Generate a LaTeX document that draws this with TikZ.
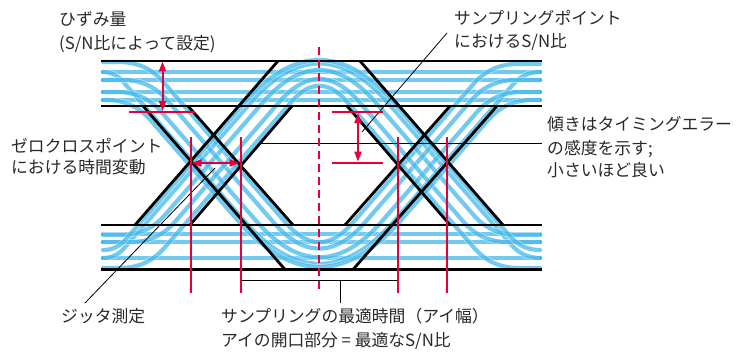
\documentclass[tikz,border=0pt]{standalone}
\usepackage{fontspec}
\setmainfont{Noto Sans CJK JP}
\usetikzlibrary{arrows.meta}
\definecolor{eyeblue}{RGB}{0,160,228}
\definecolor{eyered}{RGB}{228,0,58}
\definecolor{txt}{RGB}{40,40,40}
\tikzset{
  trace/.style={line width=4.2, eyeblue, draw opacity=0.55, line cap=round,
    preaction={draw=white, line width=5.6, draw opacity=0.5}},
  bk/.style={line width=2.8, black},
  rd/.style={line width=2, eyered},
  tip/.style={{Triangle[length=10pt,width=7pt]}-{Triangle[length=10pt,width=7pt]}},
  ld/.style={line width=0.8, black},
  lbl/.style={anchor=base west, inner sep=0, text=txt, font=\fontsize{16.8}{20}\selectfont}
}
% #1 left level, #2 left crossing, #3 right crossing, #4 right level, #5 extremum level
\newcommand\eyetrace[5]{%
  \pgfmathsetmacro\sg{(#1<165.5)?1:-1}%
  \pgfmathsetmacro\Lx{#2-0.87*\sg*(165.5-#1)}%
  \pgfmathsetmacro\Rx{#3+0.87*\sg*(165.5-#4)}%
  \pgfmathsetmacro\Ay{165.5+\sg*(#3-#2)/1.74}%
  \pgfmathsetmacro\Ax{(#2+#3)/2}%
  \pgfmathsetmacro\dv{2*\sg*(\Ay-#5)}%
  \pgfmathsetmacro\vl{max(0.5,min(20,(\Lx-103)/1.3255))}%
  \pgfmathsetmacro\vr{max(0.5,min(20,(540-\Rx)/1.3255))}%
  \pgfmathsetmacro\hl{1.3255*\vl}%
  \pgfmathsetmacro\hr{1.3255*\vr}%
  \draw[trace] (103,#1) -- (\Lx-\hl,#1)
    .. controls (\Lx-\hl/3,#1) and (\Lx+0.87*\vl/3,#1+\sg*\vl/3) .. (\Lx+0.87*\vl,#1+\sg*\vl)
    -- (\Ax-0.87*\dv,\Ay-\sg*\dv)
    .. controls (\Ax-0.87*\dv/3,\Ay-\sg*\dv/3) and (\Ax+0.87*\dv/3,\Ay-\sg*\dv/3) .. (\Ax+0.87*\dv,\Ay-\sg*\dv)
    -- (\Rx-0.87*\vr,#4+\sg*\vr)
    .. controls (\Rx-0.87*\vr/3,#4+\sg*\vr/3) and (\Rx+\hr/3,#4) .. (\Rx+\hr,#4)
    -- (540,#4);
}
\begin{document}
\begin{tikzpicture}[x=1pt,y=-1pt]
\useasboundingbox (0,0) rectangle (755,353);
% straight traces
\foreach \yy in {72,80,92,100,234,242,258} \draw[trace] (103,\yy) -- (540,\yy);
% transition traces
\eyetrace{62}{236}{402.5}{64}{242.2}
\eyetrace{268}{236}{402.5}{268}{85.8}
\eyetrace{72}{196}{442.5}{72}{263.8}
\eyetrace{258}{196}{442.5}{258}{63.4}
\eyetrace{92}{208}{430.5}{92}{257.3}
\eyetrace{235}{208}{430.5}{235}{70}
\eyetrace{80}{224}{414.5}{80}{248.6}
\eyetrace{242}{224}{414.5}{242}{79}
\eyetrace{100}{190}{448.5}{100}{267}
\eyetrace{250}{190}{448.5}{250}{60}
% black envelope
\foreach \yy in {61,106,225,269.5} \draw[bk] (101,\yy) -- (542,\yy);
\draw[bk] (143,106) -- (285,269.5);
\draw[bk] (188,106) -- (293,225);
\draw[bk] (135,225) -- (278,61);
\draw[bk] (190,225) -- (292,106);
\draw[bk] (360,61) -- (503,225);
\draw[bk] (347,106) -- (450,225);
\draw[bk] (353,269.5) -- (497,106);
\draw[bk] (345,225) -- (450,106);
% leader lines
\coordinate (jA) at (85,303);   \coordinate (jB) at (215,168);
\coordinate (sA) at (447,33);   \coordinate (sB) at (362,132);
\coordinate (kA) at (260,143);  \coordinate (kB) at (542,143);
\coordinate (wA) at (240,280);  \coordinate (wB) at (397,280);
\coordinate (wC) at (340,280);  \coordinate (wD) at (340,303);
\draw[ld] (jA) -- (jB);
\draw[ld] (sA) -- (sB);
\draw[ld] (kA) -- (kB);
\draw[ld] (wA) -- (wB) (wC) -- (wD);
% red marks
\draw[rd] (129,112) -- (195,112);
\draw[rd,tip] (162.5,61.5) -- (162.5,111);
\draw[rd] (332,112) -- (383,112);
\draw[rd] (332,162.7) -- (383,162.7);
\draw[rd,tip] (358,113) -- (358,161.7);
\foreach \xx in {190.5,240.5,398,447} \draw[rd] (\xx,137) -- (\xx,293);
\draw[rd,tip] (191.5,163) -- (239.5,163);
\draw[rd,dash pattern=on 8pt off 5pt] (319.3,47) -- (319.3,293);
% labels
\node[lbl] (t1) at (59,25.5) {ひずみ量};
\node[lbl] (t2) at (59,49) {(S/N比によって設定)};
\node[lbl] (t3) at (454,24.7) {サンプリングポイント};
\node[lbl] (t4) at (454,48) {におけるS/N比};
\node[lbl] (t5) at (11,152) {ゼロクロスポイント};
\node[lbl] (t6) at (11,173) {における時間変動};
\node[lbl] (t7) at (547,130.5) {傾きはタイミングエラー};
\node[lbl] (t8) at (547,154) {の感度を示す;};
\node[lbl] (t9) at (547,176) {小さいほど良い};
\node[lbl] (t10) at (61,322) {ジッタ測定};
\node[lbl] (t11) at (221,322) {サンプリングの最適時間（アイ幅）};
\node[lbl] (t12) at (221,346) {アイの開口部分 = 最適なS/N比};
\end{tikzpicture}
\end{document}
